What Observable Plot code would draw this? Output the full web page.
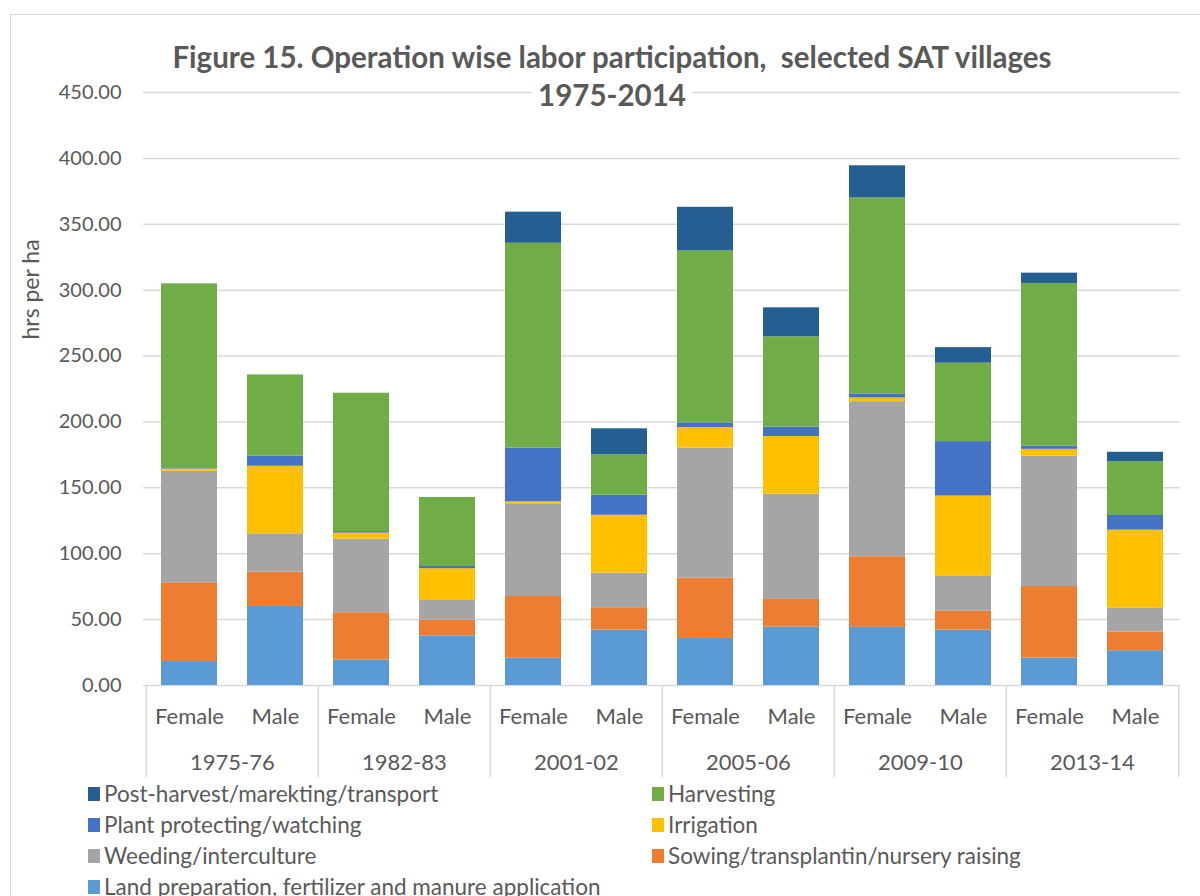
<!DOCTYPE html>
<html><head><meta charset="utf-8">
<script src="https://cdn.jsdelivr.net/npm/d3@7"></script>
<script src="https://cdn.jsdelivr.net/npm/@observablehq/plot@0.6"></script>
<style>
body{margin:0;background:#fff;font-family:Lato,"Open Sans",sans-serif;color:#595959;}
#wrap{position:relative;width:1200px;height:896px;overflow:hidden;}
#border{position:absolute;left:10px;top:14px;width:1200px;height:900px;border:1px solid #d9d9d9;box-sizing:border-box;}
#plot{position:absolute;left:0;top:0;}
#title{position:absolute;left:0;width:1224px;top:38px;text-align:center;font-weight:bold;font-size:29.5px;line-height:38px;color:#595959;z-index:2;}
#title span{background:#fff;padding:0 6px;}
#legend{position:absolute;left:88px;top:778px;display:grid;grid-template-columns:564px 540px;row-gap:0;z-index:2;}
.item{display:flex;align-items:center;height:31px;font-size:22.5px;white-space:nowrap;}
.sw{width:12px;height:14px;margin-right:4px;flex:none;}
</style></head>
<body><div id="wrap"><div id="border"></div><div id="plot"></div><div id="title"><span>Figure 15. Operation wise labor participation,&nbsp; selected SAT villages</span><br><span>1975-2014</span></div><div id="legend"></div></div>
<script>
const years = ["1975-76","1982-83","2001-02","2005-06","2009-10","2013-14"];
const sexes = ["Female","Male"];
const ops = ["Land preparation, fertilizer and manure application","Sowing/transplantin/nursery raising","Weeding/interculture","Irrigation","Plant protecting/watching","Harvesting","Post-harvest/marekting/transport"];
const colors = ["#5B9BD5","#ED7D31","#A5A5A5","#FFC000","#4472C4","#70AD47","#255E91"];
// values per bar: 1975-76 F, M, 1982-83 F, M, 2001-02 F, M, 2005-06 F, M, 2009-10 F, M, 2013-14 F, M
const land       = [18.2, 60.0, 19.3, 37.7, 20.7, 42.0, 35.7, 44.3, 44.1, 42.0, 20.8, 26.4];
const sowing     = [59.7, 26.0, 35.9, 11.9, 46.8, 17.0, 45.7, 21.0, 53.6, 14.4, 54.3, 14.2];
const weeding    = [84.7, 29.1, 55.9, 14.9, 70.4, 26.2, 98.7, 79.9, 117.7, 26.4, 99.0, 18.0];
const irrigation = [1.4, 51.3, 4.6, 24.1, 1.5, 44.0, 15.7, 43.7, 2.8, 61.0, 5.1, 59.3];
const plant      = [0.3, 7.6, 1.1, 1.7, 40.7, 15.2, 3.5, 7.1, 2.8, 41.3, 2.5, 11.1];
const harvest    = [140.5, 61.7, 105.0, 52.4, 155.5, 30.6, 130.5, 68.6, 149.0, 59.5, 123.4, 40.9];
const post       = [0, 0, 0, 0, 23.6, 19.8, 33.1, 22.0, 24.4, 11.8, 7.8, 7.1];
const yTicks = [0,50,100,150,200,250,300,350,400,450];
const legendOrder = [6,5,4,3,2,1,0];

const series = [land, sowing, weeding, irrigation, plant, harvest, post];
const keys = years.flatMap(y => sexes.map(s => y + "|" + s));
const rows = [];
ops.forEach((op, i) => series[i].forEach((v, j) => rows.push({op, key: keys[j], value: v})));

const W = 1200, H = 780, ML = 143, MR = 20, MT = 92, MB = 95;
const halfStep = (W - ML - MR) / keys.length / 2;
const grey = "#d9d9d9", txt = "#595959";

const chart = Plot.plot({
  width: W, height: H, marginLeft: ML, marginRight: MR, marginTop: MT, marginBottom: MB,
  style: {fontFamily: "Lato, 'Open Sans', sans-serif", fontSize: "20px", color: txt, background: "transparent"},
  x: {type: "band", domain: keys, paddingInner: 0.35, paddingOuter: 0.175, axis: null},
  y: {domain: [0, 450], ticks: yTicks, tickFormat: d3.format(".2f"), tickSize: 0, tickPadding: 22, label: null, fontVariant: "normal"},
  color: {domain: ops, range: colors},
  marks: [
    Plot.ruleY(yTicks, {stroke: grey, strokeWidth: 1.5}),
    Plot.barY(rows, Plot.stackY({x: "key", y: "value", fill: "op", order: ops})),
    Plot.ruleX(years, {x: y => y + "|Female", dx: -halfStep, y1: 0, y2: -70, stroke: grey, strokeWidth: 1.5}),
    Plot.ruleX([keys[keys.length - 1]], {x: d => d, dx: halfStep, y1: 0, y2: -70, stroke: grey, strokeWidth: 1.5}),
    Plot.text(keys, {x: d => d, y: 0, dy: 31, text: d => d.split("|")[1], fill: txt, fontSize: 22}),
    Plot.text(years, {x: y => y + "|Male", y: 0, dx: -halfStep, dy: 77, text: d => d, fill: txt, fontSize: 22}),
    Plot.text(["hrs per ha"], {frameAnchor: "left", dx: -112, dy: -49.5, rotate: -90, fill: txt, fontSize: 23})
  ]
});
document.getElementById("plot").appendChild(chart);

const leg = document.getElementById("legend");
legendOrder.forEach(i => {
  const it = document.createElement("div"); it.className = "item";
  it.innerHTML = `<span class="sw" style="background:${colors[i]}"></span><span>${ops[i]}</span>`;
  leg.appendChild(it);
});
</script></body></html>
